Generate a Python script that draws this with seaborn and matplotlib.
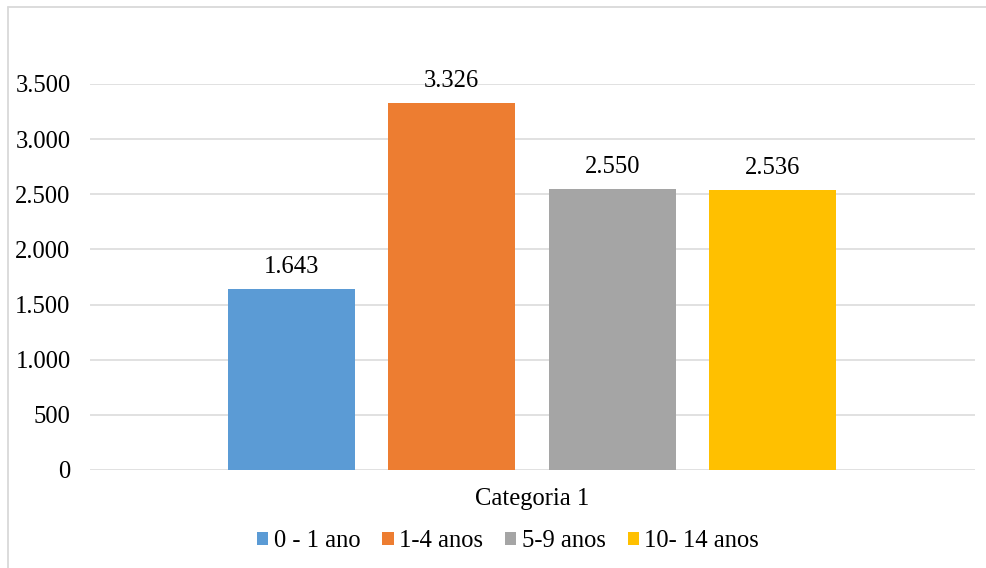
import matplotlib
matplotlib.use("Agg")
import matplotlib.pyplot as plt
from matplotlib.patches import Patch
from matplotlib.lines import Line2D
from matplotlib.ticker import FuncFormatter
import seaborn as sns
import pandas as pd

# Values per age group
categories = ["Categoria 1"]
groups = ["0 - 1 ano", "1-4 anos", "5-9 anos", "10- 14 anos"]
values = [1643, 3326, 2550, 2536]
colors = ["#5B9BD5", "#ED7D31", "#A5A5A5", "#FFC000"]
yticks = [0, 500, 1000, 1500, 2000, 2500, 3000, 3500]

df = pd.DataFrame({
    "categoria": categories * len(groups),
    "grupo": groups,
    "valor": values,
})

sns.set_theme(style="white")
plt.rcParams["font.family"] = ["Liberation Serif", "DejaVu Serif"]
FS = 17.7

W, H = 987, 568
fig = plt.figure(figsize=(W / 100, H / 100), dpi=100)
ax = fig.add_axes([90 / W, 1 - 470 / H, 885 / W, 386 / H])

sns.barplot(data=df, x="categoria", y="valor", hue="grupo",
            hue_order=groups, palette=colors, width=0.8, gap=0.208,
            saturation=1, legend=False, edgecolor="none", linewidth=0, ax=ax)

def fmt(v):
    return f"{int(round(v)):,}".replace(",", ".")

for cont in ax.containers:
    ax.bar_label(cont, labels=[fmt(b.get_height()) for b in cont],
                 padding=8, fontsize=FS, color="#000000", clip_on=False)

ax.set_xlim(-0.5515, 0.5527)
ax.set_ylim(0, 3500)
ax.set_yticks(yticks)
ax.yaxis.set_major_formatter(FuncFormatter(lambda v, p: fmt(v)))
ax.set_xlabel("")
ax.set_ylabel("")
ax.grid(axis="y", color="#D9D9D9", linewidth=1.1)
ax.set_axisbelow(True)
for s in ax.spines.values():
    s.set_visible(False)
ax.tick_params(axis="y", length=0, pad=14, labelsize=FS, labelcolor="#000000")
ax.tick_params(axis="x", length=0, pad=13, labelsize=FS, labelcolor="#000000")

handles = [Patch(facecolor=c, edgecolor="none", label=g) for c, g in zip(colors, groups)]
fig.legend(handles=handles, loc="center", bbox_to_anchor=(508 / W, 1 - 541 / H),
           ncol=4, frameon=False, fontsize=FS, handlelength=0.45, handleheight=0.45,
           handletextpad=0.22, columnspacing=0.9, labelcolor="#000000")

# Chart area outline (top and left edges)
border = dict(color="#D9D9D9", linewidth=1.3, transform=fig.transFigure)
fig.add_artist(Line2D([8 / W, 1.0], [1 - 7 / H, 1 - 7 / H], **border))
fig.add_artist(Line2D([8 / W, 8 / W], [0.0, 1 - 7 / H], **border))

fig.savefig("out.png", dpi=100)
